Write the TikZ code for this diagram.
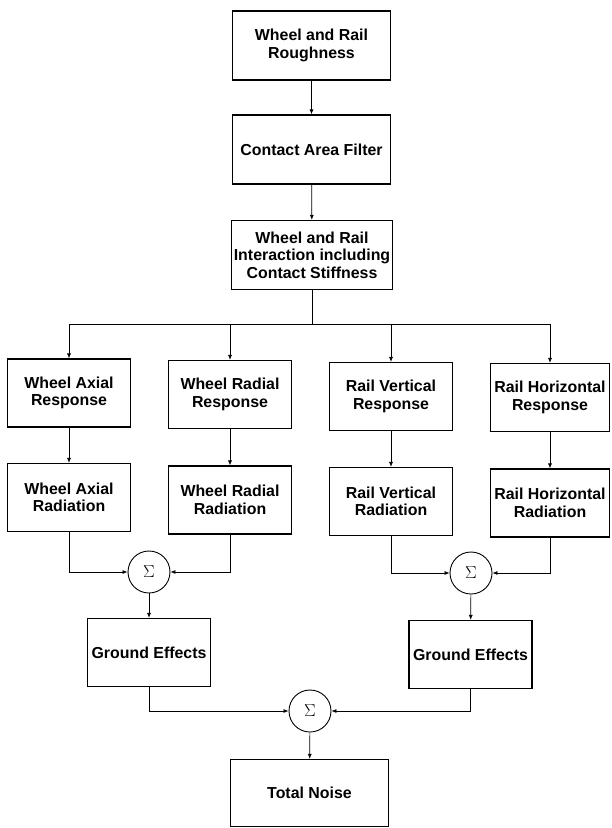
\documentclass[tikz,border=0pt]{standalone}
\usepackage{fontspec}
\setmainfont{Liberation Sans}
\usetikzlibrary{arrows.meta}
\begin{document}
\begin{tikzpicture}[x=1pt,y=-1pt,
  box/.style={draw, line width=1.2pt, inner sep=2pt, align=center,
    font=\fontsize{15.9}{17.6}\selectfont\bfseries},
  wide/.style={box, minimum width=158pt, minimum height=69pt},
  narrow/.style={box, minimum width=123pt, minimum height=68pt},
  sumnode/.style={draw, circle, line width=0.9pt, minimum size=42pt, inner sep=0pt,
    font=\fontsize{17}{17}\selectfont},
  conn/.style={line width=0.7pt},
  arr/.style={conn, -{Latex[length=5pt,width=4pt]}}]
\useasboundingbox (0,0) rectangle (611,828);
\node[wide] (rough) at (311.5,45.5) {Wheel and Rail\\Roughness};
\node[wide] (filter) at (311.5,149.5) {Contact Area Filter};
\node[wide] (inter) at (312,255) {Wheel and Rail\\Interaction including\\Contact Stiffness};
\node[narrow] (war) at (69,393) {Wheel Axial\\Response};
\node[narrow] (wrr) at (230,394.5) {Wheel Radial\\Response};
\node[narrow] (rvr) at (391,396.5) {Rail Vertical\\Response};
\node[narrow, minimum width=119pt] (rhr) at (550,397.5) {Rail Horizontal\\Response};
\node[narrow] (war2) at (69,497.5) {Wheel Axial\\Radiation};
\node[narrow] (wrr2) at (230,500) {Wheel Radial\\Radiation};
\node[narrow] (rvr2) at (391,501.5) {Rail Vertical\\Radiation};
\node[narrow, minimum width=119pt] (rhr2) at (550,503) {Rail Horizontal\\Radiation};
\node[sumnode] (s1) at (149,572) {$\Sigma$};
\node[sumnode] (s2) at (471,573) {$\Sigma$};
\node[narrow] (ge1) at (149,652.5) {Ground Effects};
\node[narrow] (ge2) at (470.5,654.5) {Ground Effects};
\node[sumnode] (s3) at (310,711) {$\Sigma$};
\node[wide, minimum height=67pt] (tot) at (309.5,793) {Total Noise};
\coordinate (br) at (312,324);
\draw[arr] (rough) -- (filter);
\draw[arr] (filter) -- (inter);
\draw[conn] (inter.south) -- (br);
\draw[conn] (br -| war) -- (br -| rhr);
\foreach \n in {war,wrr,rvr,rhr} \draw[arr] (br -| \n) -- (\n.north);
\draw[arr] (war) -- (war2);
\draw[arr] (wrr) -- (wrr2);
\draw[arr] (rvr) -- (rvr2);
\draw[arr] (rhr) -- (rhr2);
\draw[arr] (war2.south) |- (s1.west);
\draw[arr] (wrr2.south) |- (s1.east);
\draw[arr] (rvr2.south) |- (s2.west);
\draw[arr] (rhr2.south) |- (s2.east);
\draw[arr] (s1) -- (ge1);
\draw[arr] (s2) -- (ge2);
\draw[arr] (ge1.south) |- (s3.west);
\draw[arr] (ge2.south) |- (s3.east);
\draw[arr] (s3) -- (tot);
\end{tikzpicture}
\end{document}
